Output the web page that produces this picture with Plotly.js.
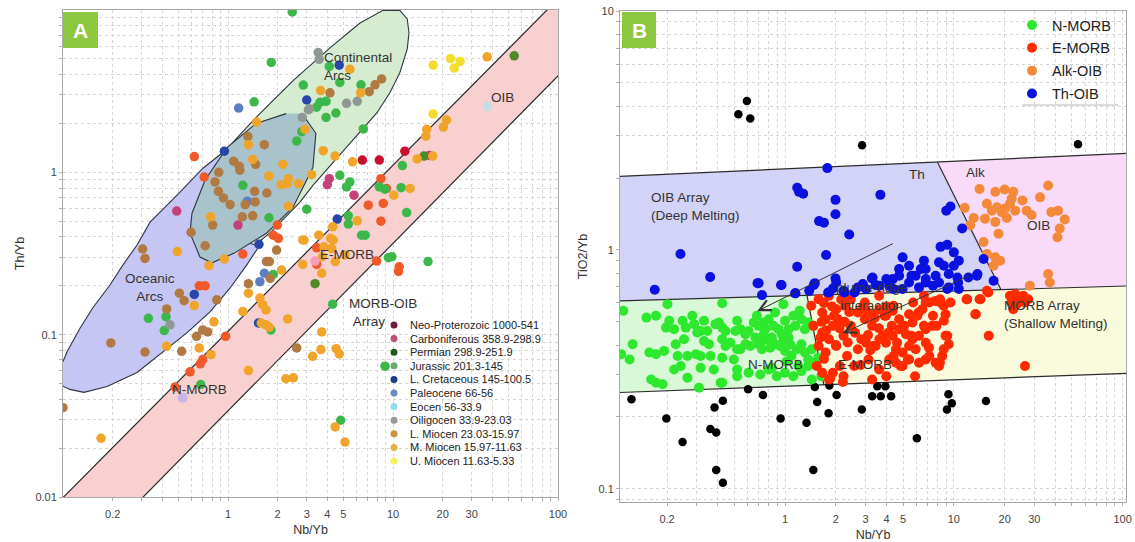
<!DOCTYPE html>
<html><head><meta charset="utf-8">
<script src="https://cdn.plot.ly/plotly-3.0.1.min.js"></script>
<style>html,body{margin:0;padding:0;background:#fff}#chart{width:1135px;height:542px}</style>
</head><body><div id="chart"></div>
<script>
// ---------- Panel A: Th/Yb vs Nb/Yb (series by age) ----------
const seriesNamesA = ['Neo-Proterozoic 1000-541','Carboniferous 358.9-298.9','Permian 298.9-251.9','Jurassic 201.3-145','L. Cretaceous 145-100.5','Paleocene 66-56','Eocen 56-33.9','Oiligocen 33.9-23.03','L. Miocen 23.03-15.97','M. Miocen 15.97-11.63','U. Miocen 11.63-5.33'];
const neoX = [6.52,8.26,11.8];
const neoY = [1.19,1.19,1.35];
const carbX = [1.15,4.11,4.00,5.80,16.6,0.489];
const carbY = [0.473,0.914,0.839,0.723,1.27,0.577];
const permX = [54.3,3.37,15.4];
const permY = [5.22,0.206,1.26];
const jurX = [2.45,1.83,2.86,1.44,2.80,2.61,1.23,3.00,1.77,4.11,4.76,6.40,3.61,3.93,3.44,4.51,3.93,6.61,11.4,8.26,8.93,11.2,12.1,5.36,5.36,6.45,4.76,5.48,5.23,0.421,0.329,0.411,0.684,1.82,4.31,8.95,4.82,9.38,6.79,9.85,16.3,1.88];
const jurY = [9.72,4.75,3.45,2.72,1.78,1.56,0.832,0.593,0.525,4.49,3.58,3.46,2.70,2.74,2.52,2.32,2.18,1.85,1.10,0.813,0.787,0.805,0.565,0.540,0.480,0.410,0.959,0.873,0.813,0.129,0.126,0.106,0.0493,0.107,0.154,0.0640,0.0297,0.298,0.410,0.302,0.282,0.235];
const cretX = [3.00,0.951,4.72,4.59,1.54,0.625,1.53];
const cretY = [2.79,1.35,4.57,0.515,0.360,0.177,0.118];
const paleoX = [1.16,1.31,1.56,1.66];
const paleoY = [2.49,0.664,0.212,0.239];
const eocX = [37.4];
const eocY = [2.55];
const oligX = [3.07,2.82,3.52,3.57,3.11,5.23,6.07,0.445];
const oligY = [2.43,2.18,5.47,4.97,2.46,2.66,2.74,0.115];
const lmioX = [1.32,1.66,1.08,1.17,1.18,1.47,0.879,0.834,0.875,0.938,1.03,1.45,1.46,1.72,1.27,1.22,1.41,0.807,0.597,0.727,0.304,0.314,8.53,7.78,4.15,7.18,0.507,0.542,0.855,0.195,0.314,0.524,0.645,0.703,0.754,1.97,1.33,1.71,1.78,1.80,2.61,0.100,0.425];
const lmioY = [1.66,1.48,1.17,1.09,1.03,1.12,1.00,0.873,0.764,0.695,0.633,0.764,0.657,0.746,0.633,0.532,0.540,0.473,0.427,0.353,0.337,0.295,3.76,3.46,3.09,3.14,0.180,0.162,0.164,0.0889,0.0782,0.0790,0.0977,0.107,0.104,0.332,0.206,0.282,0.282,0.222,0.0828,0.0355,0.144];
const mmioX = [1.49,2.93,1.33,1.41,2.15,1.77,2.10,2.32,2.28,2.67,2.32,0.785,0.493,2.84,37.2,21.1,20.2,16.0,15.8,14.0,17.4,5.69,12.7,10.1,6.07,4.31,3.78,4.45,3.21,4.19,3.81,5.48,3.64,6.36,0.767,0.951,0.625,0.425,0.670,0.822,0.789,0.170,1.33,1.23,1.56,1.62,1.70,1.59,1.70,1.78,1.33,2.30,2.11,2.84,3.70,4.25,5.12,3.70,3.26,3.66,4.52,4.73,2.24,2.49,4.46,5.12,2.89,3.55,4.34,3.73,4.47];
const mmioY = [2.04,1.84,1.48,1.20,1.12,0.949,0.839,0.914,0.851,0.851,0.618,0.532,0.325,0.383,5.15,2.10,1.90,1.84,1.67,1.21,1.26,1.16,0.795,0.723,0.503,0.462,1.36,1.26,0.968,0.392,0.348,4.32,3.19,3.09,0.266,0.292,0.151,0.0847,0.0828,0.120,0.0753,0.0230,0.180,0.139,0.168,0.153,0.142,0.118,0.115,0.111,0.0601,0.125,0.250,0.271,0.239,0.340,0.310,0.104,0.0736,0.0809,0.0820,0.0760,0.0535,0.0542,0.0270,0.0218,0.383,0.410,0.383,0.302,0.282];
const umioX = [17.5,22.3,25.5,23.5,17.5];
const umioY = [4.57,5.02,4.82,4.39,2.29];
const otherAX = [0.625,0.717,1.99,0.670,0.727,1.23,0.703,0.679,0.968,0.589,0.478,8.45,8.73,7.08,8.45,3.45,7.96,9.12,10.9,10.8,3.45,1.88,2.02];
const otherAY = [1.25,0.935,0.473,0.200,0.200,0.314,0.0702,0.0661,0.0977,0.0590,0.0476,0.914,0.643,0.628,0.500,0.271,0.284,0.794,0.262,0.245,0.343,0.410,0.392];
const refNX = [0.531], refNY = [0.0408];
const refEX = [3.37], refEY = [0.284];

// Panel A fields
const oceanX = [0.100,0.106,0.127,0.152,0.193,0.231,0.281,0.337,0.491,0.705,0.933,1.00,1.27,1.61,1.80,1.68,1.56,1.30,1.03,0.778,0.565,0.404,0.281,0.185,0.134,0.110,0.095];
const oceanY = [0.0683,0.0787,0.110,0.147,0.203,0.269,0.357,0.493,0.723,1.06,1.33,1.42,1.51,1.18,0.674,0.441,0.357,0.269,0.194,0.138,0.103,0.0787,0.0585,0.0480,0.0441,0.0460,0.0493];
const contX = [1.00,1.48,2.48,4.15,6.31,8.70,11.0,12.2,12.5,12.2,11.0,9.59,8.00,6.05,4.33,3.27,2.73,2.21,1.82,1.46,1.18,1.03];
const contY = [1.42,2.18,3.67,5.85,8.32,9.95,9.95,8.81,7.22,5.76,4.11,3.10,2.33,1.69,1.15,0.832,0.655,0.522,0.428,0.357,0.383,0.674];
const innerX = [2.81,3.41,3.27,2.48,1.72,1.09,0.800,0.676,0.588,0.605,0.726,0.986,1.48,2.25];
const innerY = [2.30,1.74,1.07,0.610,0.423,0.318,0.277,0.301,0.423,0.560,0.893,1.42,2.00,2.30];
const bandUpperX = [0.09,100], bandUpperY = [0.0089,11.7];
const bandLowerX = [0.29,110], bandLowerY = [0.00946,4.33];

// ---------- Panel B: TiO2/Yb vs Nb/Yb ----------
const seriesNamesB = ['N-MORB','E-MORB','Alk-OIB','Th-OIB'];
const nmorbX = [0.110,0.151,0.172,0.201,0.206,0.197,0.220,0.247,0.258,0.282,0.289,0.302,0.316,0.331,0.346,0.387,0.405,0.424,0.424,0.444,0.520,0.508,0.543,0.582,0.608,0.652,0.681,0.697,0.746,0.763,0.798,0.853,0.873,0.914,0.977,1.00,1.05,1.12,1.15,1.22,1.25,1.31,1.37,1.47,
 0.125,0.120,0.107,0.157,0.172,0.192,0.225,0.231,0.252,0.264,0.296,0.316,0.331,0.354,0.362,0.424,0.444,0.474,0.497,0.520,0.543,0.582,0.622,0.667,0.697,0.730,0.780,0.817,0.873,0.935,0.977,1.00,1.07,1.09,1.17,1.25,1.31,1.37,1.44,1.50,1.57,
 0.220,0.241,0.264,0.316,0.378,0.424,0.415,0.520,0.520,0.608,0.713,0.798,0.835,0.893,1.00,1.12,1.25,1.37,1.64,
 0.161,0.172,0.188,0.309,0.424,0.746,0.955,1.05,0.835,0.730,1.02,1.20,1.44];
const nmorbY = [0.556,0.521,0.530,0.593,0.505,0.473,0.466,0.505,0.473,0.530,0.489,0.451,0.458,0.505,0.458,0.489,0.497,0.598,0.473,0.458,0.505,0.458,0.466,0.444,0.458,0.497,0.530,0.481,0.497,0.466,0.513,0.481,0.547,0.466,0.593,0.505,0.466,0.530,0.481,0.556,0.513,0.466,0.497,0.481,
 0.403,0.348,0.366,0.372,0.366,0.378,0.403,0.360,0.423,0.360,0.366,0.360,0.416,0.403,0.360,0.423,0.396,0.409,0.348,0.384,0.384,0.403,0.396,0.430,0.403,0.384,0.423,0.390,0.403,0.396,0.416,0.378,0.403,0.360,0.384,0.403,0.372,0.348,0.384,0.337,0.354,
 0.316,0.327,0.292,0.321,0.316,0.354,0.278,0.316,0.296,0.306,0.301,0.316,0.321,0.296,0.306,0.296,0.311,0.327,0.296,
 0.287,0.278,0.274,0.265,0.278,0.444,0.444,0.430,0.430,0.416,0.341,0.327,0.287];
const emorbX = [3.02,3.30,3.62,3.96,4.34,4.74,5.43,5.69,6.08,6.51,6.81,7.80,8.34,8.93,9.55,8.73,7.45,6.81,6.22,5.69,5.20,4.74,4.34,3.96,3.62,3.30,3.02,4.54,4.97,5.43,5.94,7.12,8.93,9.33,8.53,7.80,6.81,6.22,5.43,4.97,4.54,8.17,4.14,12.0,14.4,13.4,15.7,16.1,26.4,21.5,23.1,24.1,25.8,22.0,23.6,25.2,26.4,22.5,27.6,
 1.43,1.58,1.66,1.74,1.82,1.92,2.01,1.66,1.82,1.58,1.74,2.01,2.22,2.45,2.33,2.11,1.92,1.82,2.22,2.57,2.70,2.83,3.12,3.44,3.79,3.61,3.98,3.28,4.39,4.61,5.08,5.61,4.84,5.34,5.89,6.65,7.16,7.52,8.28,8.71,1.47,1.54,1.66,2.06,2.27,2.70,2.97,3.28,3.89,4.29,2.45,2.97,3.61,4.39,5.74,6.18,6.65,6.82,7.16,8.28,9.14,8.71,7.89,11.9,14.2,13.5,16.0,
 1.70,1.90,2.15,1.65,1.95,2.25,1.75,2.10,2.40,1.62,2.00,2.35,1.70,2.60,2.90,3.10,2.80,3.40,3.60,4.00,4.10,3.20,1.85,2.20];
const emorbY = [0.556,0.538,0.565,0.530,0.556,0.513,0.538,0.497,0.530,0.565,0.603,0.612,0.603,0.538,0.603,0.505,0.481,0.466,0.437,0.423,0.444,0.466,0.437,0.409,0.423,0.396,0.409,0.384,0.372,0.396,0.384,0.390,0.437,0.403,0.360,0.337,0.348,0.337,0.348,0.327,0.337,0.327,0.348,0.622,0.622,0.538,0.675,0.437,0.327,0.643,0.653,0.633,0.643,0.603,0.593,0.612,0.603,0.565,0.622,
 0.584,0.622,0.547,0.513,0.643,0.481,0.565,0.451,0.423,0.396,0.372,0.396,0.437,0.481,0.360,0.327,0.306,0.287,0.296,0.327,0.384,0.423,0.348,0.396,0.437,0.316,0.296,0.287,0.360,0.409,0.481,0.437,0.327,0.348,0.296,0.643,0.603,0.530,0.622,0.584,0.481,0.327,0.306,0.513,0.584,0.547,0.513,0.481,0.530,0.481,0.622,0.603,0.643,0.584,0.603,0.547,0.481,0.409,0.360,0.337,0.437,0.384,0.481,0.622,0.622,0.538,0.664,
 0.60,0.58,0.62,0.50,0.53,0.50,0.46,0.47,0.55,0.43,0.40,0.41,0.35,0.45,0.58,0.44,0.33,0.52,0.47,0.58,0.45,0.38,0.29,0.28];
const alkX = [14.2,17.6,20.0,22.5,36.2,32.4,25.5,15.7,18.0,20.1,21.5,23.1,16.8,11.6,13.1,15.3,17.6,20.6,28.9,37.8,41.4,45.4,42.4,41.1,12.5,18.4,15.0,15.7,17.6,18.8,17.2,36.2,37.0,28.2,19.2,22.0,27.0];
const alkY = [1.80,1.75,1.79,1.75,1.86,1.66,1.61,1.56,1.51,1.49,1.56,1.46,1.46,1.50,1.36,1.35,1.31,1.36,1.40,1.44,1.46,1.34,1.23,1.13,1.27,1.17,1.08,0.962,0.931,0.902,0.859,0.793,0.731,0.708,1.44,1.64,1.46];
const thX = [1.78,1.18,1.21,1.28,1.99,1.99,1.59,1.70,2.40,0.240,1.75,1.18,0.360,0.697,0.946,0.169,0.730,1.15,1.39,1.48,1.80,1.92,1.99,2.25,2.58,2.89,3.27,
 3.67,9.02,9.55,11.2,8.34,9.14,4.97,5.43,6.65,6.81,8.17,8.73,10.0,10.7,10.0,7.80,9.33,10.5,13.7,15.0,17.2,4.74,5.94,6.37,6.81,8.17,6.22,5.43,4.34,4.14,3.30,3.62,3.02,4.97,9.33,10.7,4.74,
 0.687,0.953,1.15,1.50,1.82,2.01,2.22,2.70,3.44,3.98,4.39,5.61,6.82,7.52,9.14,10.6,12.2,13.8];
const thY = [2.20,1.82,1.75,1.72,1.62,1.41,1.32,1.30,1.16,0.962,0.953,0.851,0.770,0.726,0.713,0.681,0.647,0.659,0.675,0.713,0.664,0.690,0.760,0.664,0.664,0.720,0.760,
 1.70,1.46,1.52,1.23,1.03,1.05,0.931,0.859,0.902,0.832,0.887,0.859,0.977,0.902,0.859,0.780,0.793,0.767,0.780,0.916,0.743,0.832,0.780,0.832,0.731,0.731,0.697,0.731,0.755,0.708,0.767,0.708,0.686,0.686,0.697,0.686,0.780,
 0.726,0.713,0.658,0.726,0.664,0.731,0.675,0.697,0.713,0.755,0.686,0.780,0.755,0.708,0.686,0.731,0.767,0.793];
const otherBX = [0.529,0.594,0.622,2.86,54.4,0.123,0.198,0.247,0.382,0.428,0.361,0.391,0.391,0.428,0.604,0.740,0.941,1.34,1.50,1.55,1.47,1.81,1.83,2.02,2.85,3.28,3.52,3.69,3.93,4.25,6.04,9.10,9.29,9.73,15.5];
const otherBY = [3.70,4.20,3.55,2.74,2.77,0.237,0.197,0.157,0.219,0.234,0.178,0.172,0.120,0.106,0.261,0.247,0.197,0.189,0.267,0.231,0.120,0.207,0.271,0.247,0.215,0.244,0.269,0.244,0.269,0.244,0.163,0.215,0.249,0.228,0.233];

// Panel B fields
const oibArrX = [0.09,8.0,19.0,0.09], oibArrY = [2.02,2.33,0.683,0.61];
const alkFieldX = [8.0,110,110,19.0], alkFieldY = [2.33,2.54,0.707,0.683];
const nFieldX = [0.09,1.35,1.70,0.09], nFieldY = [0.61,0.644,0.272,0.252];
const eFieldX = [1.35,110,110,1.70], eFieldY = [0.644,0.707,0.305,0.272];
const topLineX = [0.09,110], topLineY = [2.02,2.54];
const midLineX = [0.09,110], midLineY = [0.61,0.707];
const botLineX = [0.09,110], botLineY = [0.252,0.305];
const thAlkX = [8.0,19.0], thAlkY = [2.33,0.683];
const nEX = [1.35,1.70], nEY = [0.644,0.272];

// ticks
const xTickVals = [0.2,0.3,0.4,0.5,0.6,0.7,0.8,0.9,1,2,3,4,5,6,7,8,9,10,20,30,40,50,60,70,80,90,100];
const xTickText = ['0.2','','','','','','','','1','2','3','4','5','','','','','10','20','30','','','','','','','100'];
const yTickValsA = [0.01,0.02,0.03,0.04,0.05,0.06,0.07,0.08,0.09,0.1,0.2,0.3,0.4,0.5,0.6,0.7,0.8,0.9,1,2,3,4,5,6,7,8,9];
const yTickTextA = ['0.01','','','','','','','','','0.1','','','','','','','','','1','','','','','','','',''];
const yTickValsB = [0.09,0.1,0.2,0.3,0.4,0.5,0.6,0.7,0.8,0.9,1,2,3,4,5,6,7,8,9,10];
const yTickTextB = ['','0.1','','','','','','','','','1','','','','','','','','','10'];

// ---------- build ----------
const W = 1135, H = 542;
const px = p => p / W, py = p => 1 - p / H;
const F = 'Liberation Sans, Arial, sans-serif';
const L = Math.log10;
const traces = [];

function region(x, y, fill, line, xa, ya) {
  traces.push({x: x, y: y, xaxis: xa, yaxis: ya, mode: 'lines', fill: 'toself', fillcolor: fill,
    line: {color: line || 'rgba(0,0,0,0)', width: line ? 1.1 : 0}, hoverinfo: 'skip', showlegend: false});
}
function lineT(x, y, xa, ya) {
  traces.push({x: x, y: y, xaxis: xa, yaxis: ya, mode: 'lines', line: {color: '#2b2b2b', width: 1.2}, hoverinfo: 'skip', showlegend: false});
}
function pts(x, y, name, color, xa, ya, size, extra) {
  traces.push(Object.assign({x: x, y: y, name: name, xaxis: xa, yaxis: ya, mode: 'markers', type: 'scatter',
    marker: {color: color, size: size || 9, line: {width: 0}}, showlegend: false}, extra || {}));
}

// Panel A regions
region([bandUpperX[0], bandUpperX[1], bandLowerX[1], bandLowerX[0]], [bandUpperY[0], bandUpperY[1], bandLowerY[1], bandLowerY[0]], '#f8d0d0', null, 'x', 'y');
lineT(bandUpperX, bandUpperY, 'x', 'y');
lineT(bandLowerX, bandLowerY, 'x', 'y');
region(oceanX, oceanY, '#c6c6f4', '#2e3440', 'x', 'y');
region(contX, contY, '#d5ecd1', '#2e3440', 'x', 'y');
region(innerX, innerY, '#a9c3cd', '#2e3440', 'x', 'y');

const colA = ['#c8102e','#c8407a','#4e8a2c','#3cb84a','#2846a8','#5b7fc4','#c5dde5','#8e9894','#b07a42','#f0a52a','#f2dc30'];
const legColA = ['#6b1f3d','#c0507a','#1e5c1e','#6aaa6a','#1e3c8c','#6a8cc0','#8ee0ea','#9a9a9a','#c89040','#e0b640','#f0f060'];
const dataA = [[neoX,neoY],[carbX,carbY],[permX,permY],[jurX,jurY],[cretX,cretY],[paleoX,paleoY],[eocX,eocY],[oligX,oligY],[lmioX,lmioY],[mmioX,mmioY],[umioX,umioY]];
pts(otherAX, otherAY, 'other', '#f05a28', 'x', 'y', 9.5);
dataA.forEach((d, i) => pts(d[0], d[1], seriesNamesA[i], colA[i], 'x', 'y', 9.5));
pts(refNX, refNY, 'N-MORB ref', '#c9b6e8', 'x', 'y', 10);
pts(refEX, refEY, 'E-MORB ref', '#f4a0b8', 'x', 'y', 9.5);

// Panel B regions
region(oibArrX, oibArrY, '#d3d3f8', null, 'x2', 'y2');
region(alkFieldX, alkFieldY, '#f9daf8', null, 'x2', 'y2');
region(nFieldX, nFieldY, '#d8f8d8', null, 'x2', 'y2');
region(eFieldX, eFieldY, '#fafadc', null, 'x2', 'y2');
lineT(topLineX, topLineY, 'x2', 'y2');
lineT(midLineX, midLineY, 'x2', 'y2');
lineT(botLineX, botLineY, 'x2', 'y2');
lineT(thAlkX, thAlkY, 'x2', 'y2');
lineT(nEX, nEY, 'x2', 'y2');

pts(otherBX, otherBY, 'other', '#000000', 'x2', 'y2', 8.5);
const colB = ['#2ee82e','#ff2a00','#f5893a','#0a10e0'];
[[nmorbX,nmorbY],[emorbX,emorbY],[alkX,alkY],[thX,thY]].forEach((d, i) => {
  pts(d[0], d[1], seriesNamesB[i], colB[i], 'x2', 'y2', 10, {showlegend: true, legend: 'legend2', legendgroup: 'g' + i});
});

// Axis helper
const tickFont = {family: F, size: 11, color: '#444'};
function axis(extra) {
  return Object.assign({type: 'log', showgrid: true, gridcolor: '#d6d6d6', griddash: 'dot', gridwidth: 1,
    showline: true, mirror: true, linecolor: '#a8a8a8', linewidth: 1, ticks: 'outside', ticklen: 3, tickcolor: '#b0b0b0',
    tickfont: tickFont, zeroline: false, automargin: false, fixedrange: true}, extra);
}

const ann = [];
function txt(t, x, y, xr, yr, o) {
  ann.push(Object.assign({text: t, x: L(x), y: L(y), xref: xr, yref: yr, showarrow: false,
    font: {family: F, size: 13.5, color: '#333'}, align: 'center'}, o || {}));
}
// Panel A labels
txt('Continental<br>Arcs', 3.71, 4.47, 'x', 'y', {xanchor: 'left', align: 'left'});
txt('Oceanic<br>Arcs', 0.337, 0.194, 'x', 'y');
txt('OIB', 46.4, 2.88, 'x', 'y');
txt('E-MORB', 5.26, 0.310, 'x', 'y');
txt('MORB-OIB<br>&nbsp;Array', 5.26, 0.136, 'x', 'y', {xanchor: 'left', align: 'left'});
txt('N-MORB', 0.676, 0.0460, 'x', 'y');
// Panel B labels
txt('OIB Array<br>(Deep Melting)', 0.156, 1.52, 'x2', 'y2', {xanchor: 'left', align: 'left'});
txt('Th', 6.06, 2.07, 'x2', 'y2');
txt('Alk', 13.5, 2.11, 'x2', 'y2');
txt('OIB', 31.6, 1.26, 'x2', 'y2');
txt('plume-ridge<br>interaction', 3.25, 0.641, 'x2', 'y2');
txt('MORB Array<br>(Shallow Melting)', 19.4, 0.538, 'x2', 'y2', {xanchor: 'left', align: 'left'});
txt('N-MORB', 0.873, 0.332, 'x2', 'y2');
txt('E-MORB', 2.99, 0.332, 'x2', 'y2');
// arrows (plume-ridge interaction)
[[0.684,0.554,4.44,1.07],[2.19,0.448,12.6,0.785]].forEach(a => {
  ann.push({text: '', x: L(a[0]), y: L(a[1]), ax: L(a[2]), ay: L(a[3]), xref: 'x2', yref: 'y2', axref: 'x2', ayref: 'y2',
    showarrow: true, arrowhead: 5, arrowsize: 2.2, arrowwidth: 1, arrowcolor: '#333'});
});
// panel letters
[['A', 63, 98], ['B', 622, 656]].forEach(p => {
  ann.push({text: '<b>' + p[0] + '</b>', x: px((p[1] + p[2]) / 2), y: py(30), xref: 'paper', yref: 'paper', showarrow: false,
    font: {family: F, size: 21, color: '#ffffff'}, xanchor: 'center', yanchor: 'middle'});
});
// Panel A legend (manual, compact rows)
const shapes = [
  {type: 'rect', xref: 'paper', yref: 'paper', x0: px(63), x1: px(98), y0: py(48), y1: py(12), fillcolor: '#8dc63f', line: {width: 0}},
  {type: 'rect', xref: 'paper', yref: 'paper', x0: px(622), x1: px(656), y0: py(48), y1: py(12), fillcolor: '#8dc63f', line: {width: 0}},
  {type: 'line', xref: 'paper', yref: 'paper', x0: px(1022), x1: px(1118), y0: py(105), y1: py(105), line: {color: '#b8b8b8', width: 1}}
];
seriesNamesA.forEach((n, i) => {
  const yy = 325 + i * 13.6;
  shapes.push({type: 'circle', xref: 'paper', yref: 'paper', x0: px(390.5), x1: px(397.5), y0: py(yy + 3.5), y1: py(yy - 3.5),
    fillcolor: legColA[i], line: {width: 0}});
  ann.push({text: n, x: px(408), y: py(yy), xref: 'paper', yref: 'paper', showarrow: false, xanchor: 'left', yanchor: 'middle',
    font: {family: F, size: 11, color: '#222'}});
});

const layout = {
  width: W, height: H, margin: {l: 0, r: 0, t: 0, b: 0}, autosize: false,
  paper_bgcolor: '#ffffff', plot_bgcolor: '#ffffff', showlegend: true, hovermode: false,
  xaxis: axis({domain: [px(63), px(558)], range: [-1, 2], anchor: 'y', tickvals: xTickVals, ticktext: xTickText, ticklabelstandoff: 4,
    title: {text: 'Nb/Yb', font: {family: F, size: 12.5, color: '#333'}, standoff: 6}}),
  yaxis: axis({domain: [py(497), py(10)], range: [-2, 1], anchor: 'x', tickvals: yTickValsA, ticktext: yTickTextA,
    title: {text: 'Th/Yb', font: {family: F, size: 12.5, color: '#333'}, standoff: 8}}),
  xaxis2: axis({domain: [px(620), px(1126)], range: [-0.978, 2.02], anchor: 'y2', tickvals: xTickVals, ticktext: xTickText, ticklabelstandoff: 4,
    title: {text: 'Nb/Yb', font: {family: F, size: 12.5, color: '#333'}, standoff: 6}}),
  yaxis2: axis({domain: [py(502), py(11)], range: [-1.055, 1.0], anchor: 'x2', tickvals: yTickValsB, ticktext: yTickTextB,
    title: {text: 'TiO2/Yb', font: {family: F, size: 12.5, color: '#333'}, standoff: 8}}),
  legend2: {x: px(1012), y: py(9), xanchor: 'left', yanchor: 'top', bgcolor: 'rgba(255,255,255,0)', borderwidth: 0,
    font: {family: F, size: 14.5, color: '#222'}, tracegroupgap: 1, itemclick: false, itemdoubleclick: false},
  annotations: ann, shapes: shapes
};
Plotly.newPlot('chart', traces, layout, {staticPlot: true, displayModeBar: false});
</script></body></html>
